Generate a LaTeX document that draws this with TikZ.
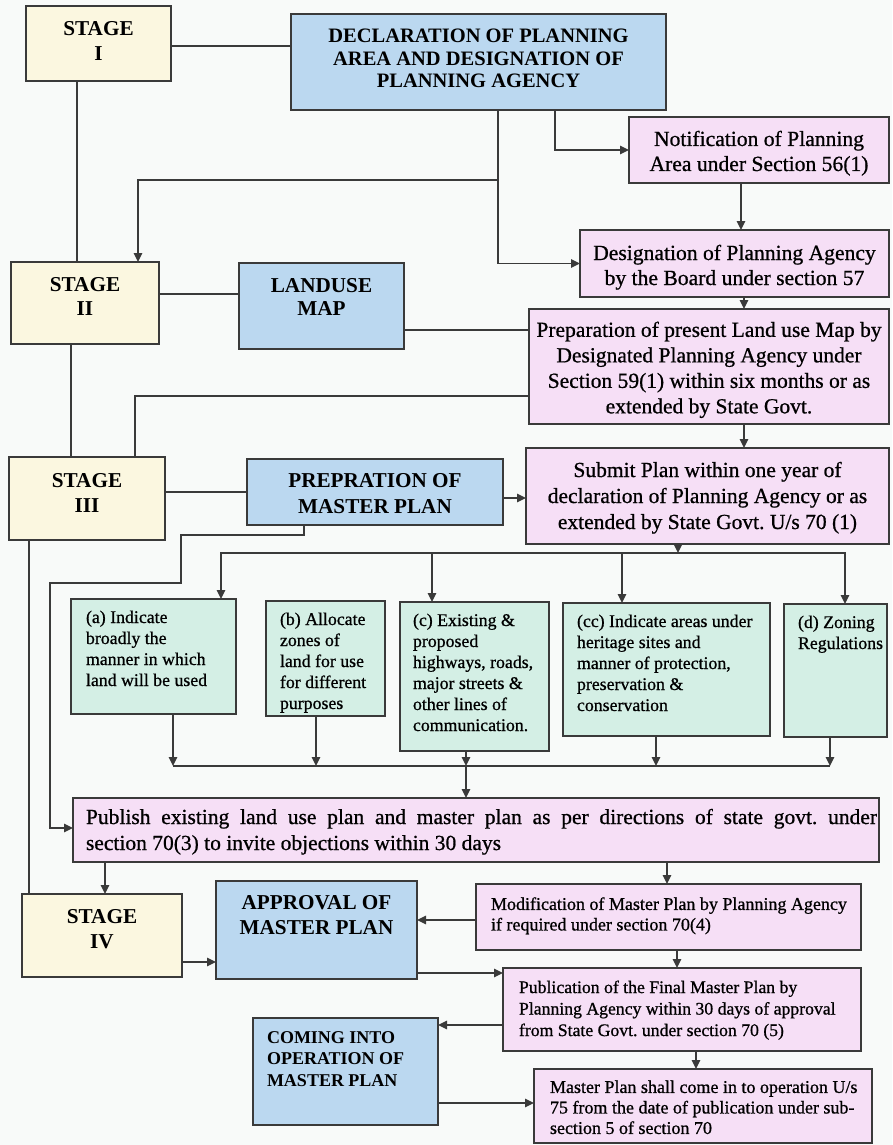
\documentclass[tikz,border=0pt]{standalone}
\usepackage{fontspec}
\setmainfont{Liberation Serif}[UprightFeatures={FakeBold=0.8}]
\usetikzlibrary{arrows.meta}
\definecolor{bgc}{RGB}{248,250,249}
\definecolor{cream}{RGB}{251,247,224}
\definecolor{bluec}{RGB}{187,216,240}
\definecolor{pinkc}{RGB}{246,223,246}
\definecolor{greenc}{RGB}{212,239,229}
\definecolor{bordc}{RGB}{58,58,58}
\newcommand\tbox[8]{% W H leftpad toppad size baselineskip align text
  \hbox to #1pt{\hspace*{#3pt}\parbox[t][#2pt][t]{\dimexpr #1pt-#3pt-2pt\relax}{\vspace*{#4pt}\fontsize{#5}{#6}\selectfont #7\strut #8\strut}\hss}}
\hyphenpenalty=10000
\tolerance=9999
\hbadness=10000
\hfuzz=20pt
\frenchspacing
\begin{document}
\begin{tikzpicture}[x=1pt,y=-1pt,
  bx/.style={draw=bordc,line width=1.6pt,inner sep=0pt,outer sep=0pt,anchor=north west},
  stagebox/.style={bx,fill=cream},
  bluebox/.style={bx,fill=bluec},
  pinkbox/.style={bx,fill=pinkc},
  greenbox/.style={bx,fill=greenc},
  ln/.style={draw=bordc,line width=1.5pt},
  arr/.style={ln,-{Triangle[length=9pt,width=8.5pt]}}]
\fill[bgc] (0,0) rectangle (892,1145);
\useasboundingbox (0,0) rectangle (892,1145);

% stage boxes
\node[stagebox] (s1) at (26,6) {\tbox{145}{75}{2}{12}{21.2}{25}{\centering\bfseries}{STAGE\\I}};
\node[stagebox] (s2) at (11,262) {\tbox{148}{82}{2}{13}{21.2}{24}{\centering\bfseries}{STAGE\\II}};
\node[stagebox] (s3) at (9,457) {\tbox{156}{83}{2}{13}{21.2}{25}{\centering\bfseries}{STAGE\\III}};
\node[stagebox] (s4) at (22,894) {\tbox{160}{83}{2}{12}{21.2}{25}{\centering\bfseries}{STAGE\\IV}};

% blue boxes
\node[bluebox] (decl) at (291,14) {\tbox{375}{96}{2}{13}{20.5}{22.5}{\centering\bfseries}{DECLARATION OF PLANNING\\AREA AND DESIGNATION OF\\PLANNING AGENCY}};
\node[bluebox] (land) at (239,263) {\tbox{165}{86}{2}{13}{21.2}{23}{\centering\bfseries}{LANDUSE\\MAP}};
\node[bluebox] (prepm) at (247,459) {\tbox{256}{66}{2}{10.5}{21.2}{26}{\centering\bfseries}{PREPRATION OF\\MASTER PLAN}};
\node[bluebox] (appr) at (216,881) {\tbox{201}{98}{2}{10.5}{21.2}{25}{\centering\bfseries}{APPROVAL OF\\MASTER PLAN}};
\node[bluebox] (coming) at (253,1018) {\tbox{185}{107}{14}{10}{18}{21.5}{\raggedright\bfseries}{COMING INTO\\OPERATION OF\\MASTER PLAN}};

% pink boxes
\node[pinkbox] (notif) at (629,117) {\tbox{260}{66}{2}{11.5}{21.6}{25}{\centering}{Notification of Planning\\Area under Section 56(1)}};
\node[pinkbox] (desig) at (580,230) {\tbox{309}{67}{2}{12.5}{21.6}{25}{\centering}{Designation of Planning Agency\\by the Board under section 57}};
\node[pinkbox] (prep) at (529,309) {\tbox{360}{115}{2}{10}{21.5}{25.5}{\centering}{Preparation of present Land use Map by\\Designated Planning Agency under\\Section 59(1) within six months or as\\extended by State Govt.}};
\node[pinkbox] (submit) at (526,448) {\tbox{363}{96}{2}{10.8}{21.5}{26}{\centering}{Submit Plan within one year of\\declaration of Planning Agency or as\\extended by State Govt. U/s 70 (1)}};
\node[pinkbox] (publish) at (73,798) {\tbox{806}{64}{13}{7.8}{21.5}{26}{}{Publish existing land use plan and master plan as per directions of state govt. under\linebreak section 70(3) to invite objections within 30 days}};
\node[pinkbox] (modif) at (476,884) {\tbox{385}{66}{15}{11.6}{18}{20.5}{\raggedright}{Modification of Master Plan by Planning Agency\\if required under section 70(4)}};
\node[pinkbox] (publ) at (503,968) {\tbox{358}{83}{16}{10}{17.7}{21.5}{\raggedright}{Publication of the Final Master Plan by\\Planning Agency within 30 days of approval\\from State Govt. under section 70 (5)}};
\node[pinkbox] (master) at (534,1069) {\tbox{338}{74}{16}{9.6}{18}{20.5}{\raggedright}{Master Plan shall come in to operation U/s\\75 from the date of publication under sub-\\section 5 of section 70}};

% green boxes
\node[greenbox] (ga) at (71,599) {\tbox{165}{115}{15}{9.3}{17.8}{21}{\raggedright}{(a) Indicate\\broadly the\\manner in which\\land will be used}};
\node[greenbox] (gb) at (266,601) {\tbox{119}{115}{14}{9.3}{17.8}{21}{\raggedright}{(b) Allocate\\zones of\\land for use\\for different\\purposes}};
\node[greenbox] (gc) at (400,602) {\tbox{149}{149}{13}{9.3}{17.8}{21}{\raggedright}{(c) Existing \&\\proposed\\highways, roads,\\major streets \&\\other lines of\\communication.}};
\node[greenbox] (gcc) at (563,603) {\tbox{207}{133}{14}{9.3}{17.8}{21}{\raggedright}{(cc) Indicate areas under\\heritage sites and\\manner of protection,\\preservation \&\\conservation}};
\node[greenbox] (gd) at (784,604) {\tbox{103}{133}{14}{9.3}{17.8}{21}{\raggedright}{(d) Zoning\\Regulations}};

% connectors: top
\coordinate (j1) at (498,180);
\draw[ln] (s1.east |- 0,46) -- (decl.west |- 0,46);
\draw[ln] (s1.south -| 77,0) -- (s2.north -| 77,0);
\draw[arr] (decl.south -| 498,0) |- (desig.west);
\draw[arr] (j1) -| (s2.north -| 138,0);
\draw[arr] (decl.south -| 555,0) |- (notif.west);
\draw[arr] (notif.south -| 741,0) -- (desig.north -| 741,0);
\draw[arr] (desig.south -| 744,0) -- (prep.north -| 744,0);
\draw[ln] (s2.east |- 0,294) -- (land.west |- 0,294);
\draw[ln] (land.east |- 0,330) -- (prep.west |- 0,330);
\draw[ln] (prep.west |- 0,396) -| (s3.north -| 135,0);
\draw[ln] (s2.south -| 71,0) -- (s3.north -| 71,0);
\draw[arr] (prep.south -| 744,0) -- (submit.north -| 744,0);
\draw[ln] (s3.east |- 0,492) -- (prepm.west |- 0,492);
\draw[arr] (prepm.east |- 0,498) -- (submit.west |- 0,498);
\draw[arr] (prepm.south -| 304,0) |- (181,535) |- (50,583) |- (publish.west |- 0,828);
\draw[ln] (s3.south -| 29,0) -- (s4.north -| 29,0);

% distribution bus
\coordinate (bus) at (678,553);
\draw[arr] (submit.south -| bus) -- (bus);
\draw[arr] (bus) -| (ga.north -| 221,0);
\draw[arr] (bus) -| (gd.north -| 845,0);
\draw[arr] (bus -| 432,0) -- (gc.north -| 432,0);
\draw[arr] (bus -| 622,0) -- (gcc.north -| 622,0);

% collection bus
\coordinate (bus2) at (466,766);
\draw[ln] (bus2 -| 173,0) -- (bus2 -| 830,0);
\draw[arr] (ga.south -| 173,0) -- (bus2 -| 173,0);
\draw[arr] (gb.south -| 316,0) -- (bus2 -| 316,0);
\draw[arr] (gc.south -| bus2) -- (bus2);
\draw[arr] (gcc.south -| 656,0) -- (bus2 -| 656,0);
\draw[arr] (gd.south -| 830,0) -- (bus2 -| 830,0);
\draw[arr] (bus2) -- (publish.north -| bus2);

% bottom part
\draw[arr] (publish.south -| 105,0) -- (s4.north -| 105,0);
\draw[arr] (publish.south -| 667,0) -- (modif.north -| 667,0);
\draw[arr] (s4.east |- 0,962) -- (appr.west |- 0,962);
\draw[arr] (modif.west |- 0,920) -- (appr.east |- 0,920);
\draw[arr] (appr.east |- 0,973) -- (publ.west |- 0,973);
\draw[arr] (modif.south -| 677,0) -- (publ.north -| 677,0);
\draw[arr] (publ.west |- 0,1025) -- (coming.east |- 0,1025);
\draw[arr] (publ.south -| 696,0) -- (master.north -| 696,0);
\draw[arr] (coming.east |- 0,1103) -- (master.west |- 0,1103);
\end{tikzpicture}
\end{document}
